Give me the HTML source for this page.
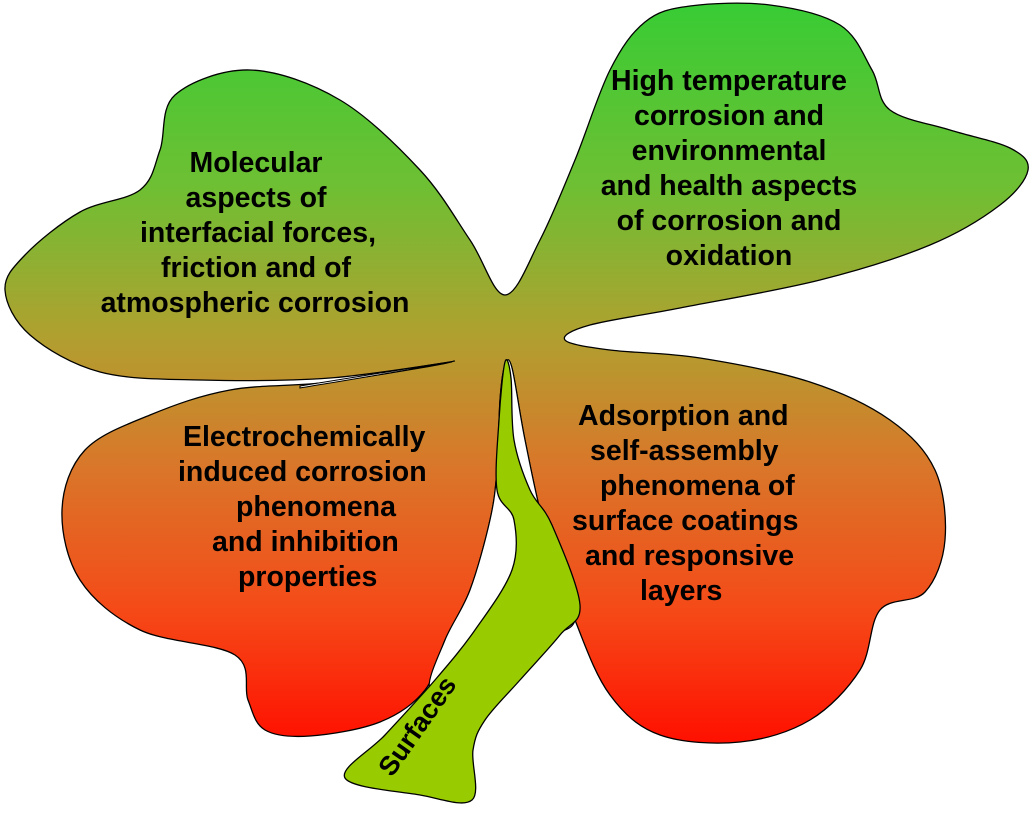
<!DOCTYPE html>
<html><head><meta charset="utf-8">
<style>
html,body{margin:0;padding:0;background:#fff;}
svg{display:block;}
text{font-family:"Liberation Sans",Arial,sans-serif;font-weight:bold;font-size:28.5px;fill:#000;}
</style></head>
<body>
<svg id="s" width="1031" height="814" viewBox="0 0 1031 814" xmlns="http://www.w3.org/2000/svg">
<defs>
<linearGradient id="g" x1="0" y1="0" x2="0" y2="1" gradientUnits="objectBoundingBox">
<stop offset="0" stop-color="#38cc34"/>
<stop offset="0.25" stop-color="#6fbf33"/>
<stop offset="0.45" stop-color="#b0a030"/>
<stop offset="0.62" stop-color="#d8782a"/>
<stop offset="0.82" stop-color="#f54a18"/>
<stop offset="1" stop-color="#ff1000"/>
</linearGradient>
</defs>
<path id="main" fill="url(#g)" stroke="#000" stroke-width="1.3"/>
<path id="slit" fill="#fff" stroke="#000" stroke-width="1"/>
<path id="gap" fill="#fff" stroke="#000" stroke-width="1.2"/>
<path id="stem" fill="#99cc00" stroke="#000" stroke-width="1.3"/>
<g>
<text x="256" y="172" text-anchor="middle">Molecular</text>
<text x="256" y="207" text-anchor="middle">aspects of</text>
<text x="258" y="242" text-anchor="middle">interfacial forces,</text>
<text x="256" y="277" text-anchor="middle">friction and of</text>
<text x="255" y="312" text-anchor="middle">atmospheric corrosion</text>

<text x="729" y="90" text-anchor="middle">High temperature</text>
<text x="729" y="125" text-anchor="middle">corrosion and</text>
<text x="729" y="160" text-anchor="middle">environmental</text>
<text x="729" y="195" text-anchor="middle">and health aspects</text>
<text x="729" y="230" text-anchor="middle">of corrosion and</text>
<text x="729" y="265" text-anchor="middle">oxidation</text>

<text x="183" y="446">Electrochemically</text>
<text x="178" y="481">induced corrosion</text>
<text x="236" y="516">phenomena</text>
<text x="212" y="551">and inhibition</text>
<text x="238" y="586">properties</text>

<text x="578" y="425">Adsorption and</text>
<text x="590" y="460">self-assembly</text>
<text x="600" y="495">phenomena of</text>
<text x="572" y="530">surface coatings</text>
<text x="585" y="565">and responsive</text>
<text x="640" y="600">layers</text>

<text x="0" y="0" transform="translate(392,778) rotate(-55)" style="font-size:27px">Surfaces</text>
</g>
</svg>
<script>
function cr(p,closed){
  var n=p.length,d="M"+p[0][0]+","+p[0][1];
  var N=closed?n:n-1;
  for(var i=0;i<N;i++){
    var p0=p[(i-1+n)%n],p1=p[i],p2=p[(i+1)%n],p3=p[(i+2)%n];
    if(!closed){if(i==0)p0=p1;if(i+2>=n)p3=p2;}
    var t=6;
    var c1=[p1[0]+(p2[0]-p0[0])/t,p1[1]+(p2[1]-p0[1])/t];
    var c2=[p2[0]-(p3[0]-p1[0])/t,p2[1]-(p3[1]-p1[1])/t];
    d+="C"+c1[0].toFixed(1)+","+c1[1].toFixed(1)+" "+c2[0].toFixed(1)+","+c2[1].toFixed(1)+" "+p2[0]+","+p2[1];
  }
  return d+(closed?"Z":"");
}
var main=[[505,295],[470,240],[420,170],[340,100],[250,70],[175,95],[160,150],[140,190],[80,212],[25,255],[5,290],[30,335],[100,372],[200,380],[330,378],[452,362],[330,382],[230,390],[150,415],[85,450],[62,510],[80,580],[140,630],[235,655],[248,700],[265,730],[310,736],[380,722],[425,690],[445,640],[470,590],[490,520],[497,470],[500,400],[505,365],[512,368],[525,440],[545,530],[575,620],[610,695],[660,735],[740,742],[810,720],[860,670],[880,610],[925,592],[945,540],[935,470],[890,420],[810,382],[700,358],[610,350],[565,340],[590,325],[680,308],[820,280],[930,245],[1000,205],[1028,170],[1010,148],[950,130],[890,110],[872,70],[840,25],[770,5],[690,6],[645,22],[610,70],[575,160],[540,240]];
document.getElementById("main").setAttribute("d",cr(main,true));
document.getElementById("slit").setAttribute("d","M300,386 C360,376 410,368 455,361 C410,370 360,378 300,388Z");
var gap=[[505,365],[512,368],[525,440],[545,530],[575,620],[520,640],[470,690],[430,690],[445,640],[470,590],[490,520],[497,470],[500,400]];
document.getElementById("gap").setAttribute("d",cr(gap,true));
var stem=[[505,362],[511,378],[514,440],[530,490],[552,525],[580,605],[560,635],[520,680],[485,720],[473,750],[472,800],[420,795],[345,778],[385,735],[435,680],[475,630],[512,570],[514,520],[497,490],[499,420]];
document.getElementById("stem").setAttribute("d",cr(stem,true));
</script>
</body></html>
